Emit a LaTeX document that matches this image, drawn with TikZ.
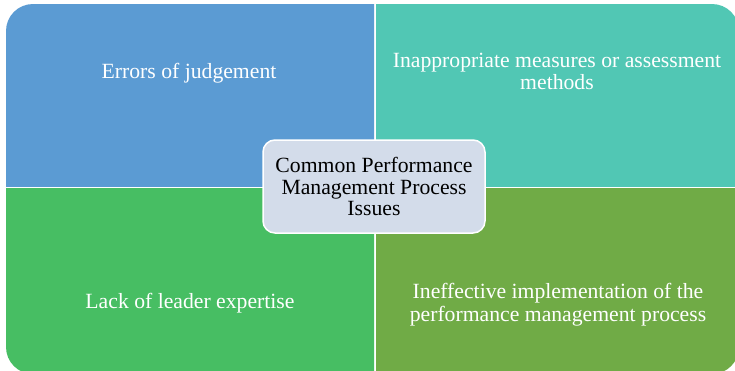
\documentclass[tikz,border=0pt]{standalone}
\usepackage{fontspec}
\setmainfont{Liberation Serif}
\usepackage[x11names, svgnames, rgb]{xcolor}
\usepackage{tikz}
\usetikzlibrary{positioning, shapes}
\definecolor{issueblue}{HTML}{5B9BD3}
\definecolor{issueteal}{HTML}{51C7B4}
\definecolor{issuegreen}{HTML}{47BE63}
\definecolor{issueolive}{HTML}{70AB46}
\definecolor{issuegray}{HTML}{D3DCEA}

\begin{document}
\begin{tikzpicture}[x=1pt,y=-1pt,
        every node/.style={font=\fontsize{21.7}{21.5}\selectfont, align=center}]
        \useasboundingbox (0,0) rectangle (735,370);
        \clip (0,0) rectangle (735,370);
        % four quadrants, one rounded outer corner each
        \foreach \xa/\ya/\xb/\yb/\col in {6/4/374/186/issueblue, 376/4/739/186/issueteal,
                6/188/374/374/issuegreen, 376/188/739/374/issueolive} {
           \begin{scope}
              \clip (\xa,\ya) rectangle (\xb,\yb);
              \fill[\col, rounded corners=27pt] (6,4) rectangle (739,374);
           \end{scope}
        }
        \node[text=white] (errors) at (189,73) {Errors of judgement};
        \node[text=white] (measures) at (557,71.3) {Inappropriate measures or assessment\\methods};
        \node[text=white] (lack) at (190,303) {Lack of leader expertise};
        \node[text=white, font=\fontsize{21.7}{23.7}\selectfont] (implement) at (558,304.7)
              {Ineffective implementation of the\\performance management process};
        \node[draw=white, line width=1.5pt, fill=issuegray, rounded corners=12pt,
              minimum width=222pt, minimum height=93pt, inner sep=0pt] (issues) at (374,186.5)
              {Common Performance\\Management Process\\Issues};
      \end{tikzpicture}
\end{document}
